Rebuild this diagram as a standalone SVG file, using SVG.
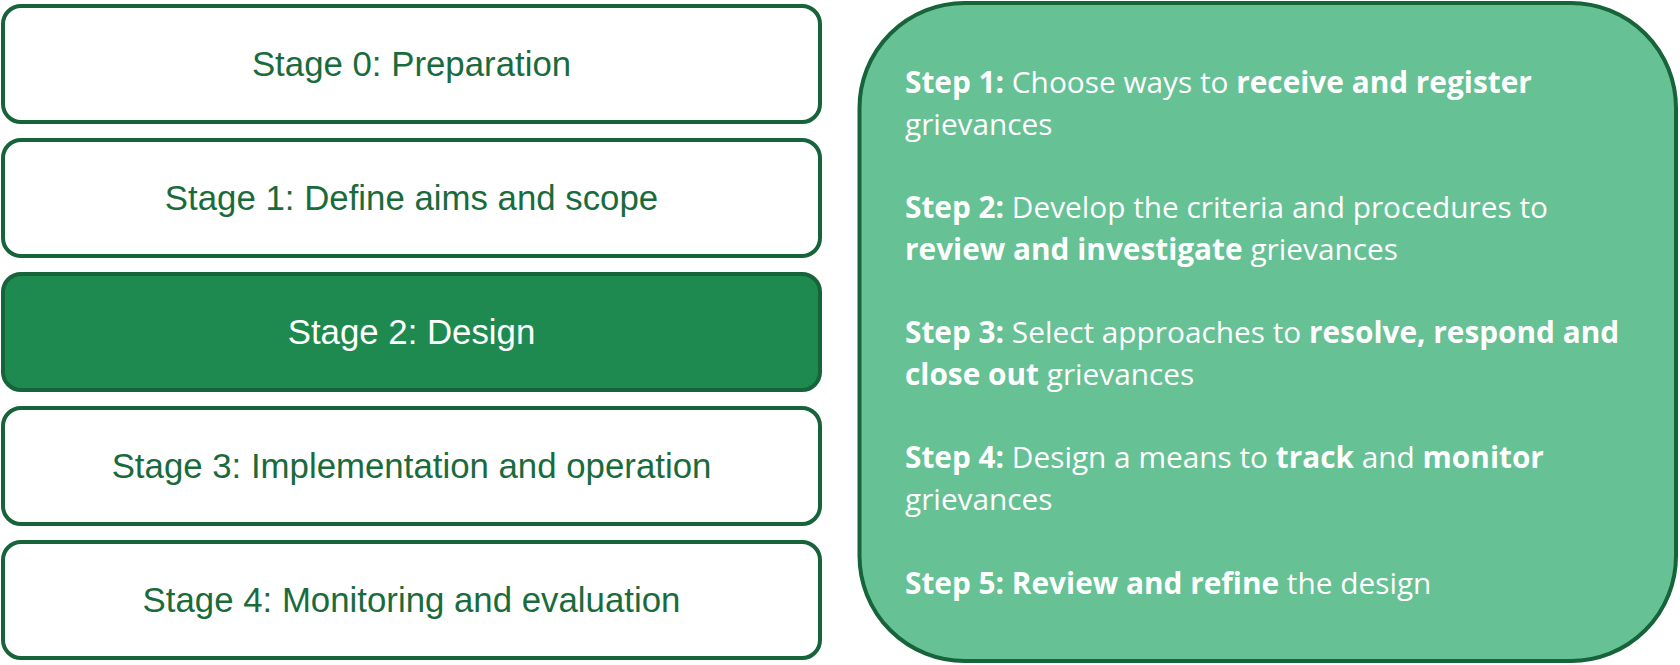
<svg xmlns="http://www.w3.org/2000/svg" width="1680" height="665" viewBox="0 0 1680 665">
<style>
.stage{fill:#ffffff;stroke:#17633a;stroke-width:4}
.active{fill:#1e8a50}
.lbl{font-family:"Liberation Sans",Arial,sans-serif;font-size:34.8px;fill:#1a6b3c;text-anchor:middle}
.lblw{fill:#ffffff}
.panel{fill:#66c194;stroke:#17633a;stroke-width:4}
.step{font-family:"Open Sans","Noto Sans",sans-serif;font-size:29.8px;fill:#ffffff}
.b{font-weight:bold}
</style>
<rect width="1680" height="665" fill="#ffffff"/>
<g id="stage0"><rect class="stage" x="3" y="6" width="817" height="116" rx="18"/><text class="lbl" x="411.5" y="76">Stage 0: Preparation</text></g>
<g id="stage1"><rect class="stage" x="3" y="140" width="817" height="116" rx="18"/><text class="lbl" x="411.5" y="210">Stage 1: Define aims and scope</text></g>
<g id="stage2"><rect class="stage active" x="3" y="274" width="817" height="116" rx="18"/><text class="lbl lblw" x="411.5" y="344">Stage 2: Design</text></g>
<g id="stage3"><rect class="stage" x="3" y="408" width="817" height="116" rx="18"/><text class="lbl" x="411.5" y="478">Stage 3: Implementation and operation</text></g>
<g id="stage4"><rect class="stage" x="3" y="542" width="817" height="116" rx="18"/><text class="lbl" x="411.5" y="612">Stage 4: Monitoring and evaluation</text></g>
<g id="steps">
<rect class="panel" x="859.5" y="3" width="816.5" height="658" rx="105"/>
<text class="step" x="905" y="93"><tspan class="b">Step 1:</tspan> Choose ways to <tspan class="b">receive and register</tspan></text>
<text class="step" x="905" y="135">grievances</text>
<text class="step" x="905" y="218"><tspan class="b">Step 2:</tspan> Develop the criteria and procedures to</text>
<text class="step" x="905" y="260"><tspan class="b">review and investigate</tspan> grievances</text>
<text class="step" x="905" y="343"><tspan class="b">Step 3:</tspan> Select approaches to <tspan class="b">resolve, respond and</tspan></text>
<text class="step" x="905" y="385"><tspan class="b">close out</tspan> grievances</text>
<text class="step" x="905" y="468"><tspan class="b">Step 4:</tspan> Design a means to <tspan class="b">track</tspan> and <tspan class="b">monitor</tspan></text>
<text class="step" x="905" y="510">grievances</text>
<text class="step" x="905" y="594"><tspan class="b">Step 5: Review and refine</tspan> the design</text>
</g>
<g id="connectors"/>
</svg>
